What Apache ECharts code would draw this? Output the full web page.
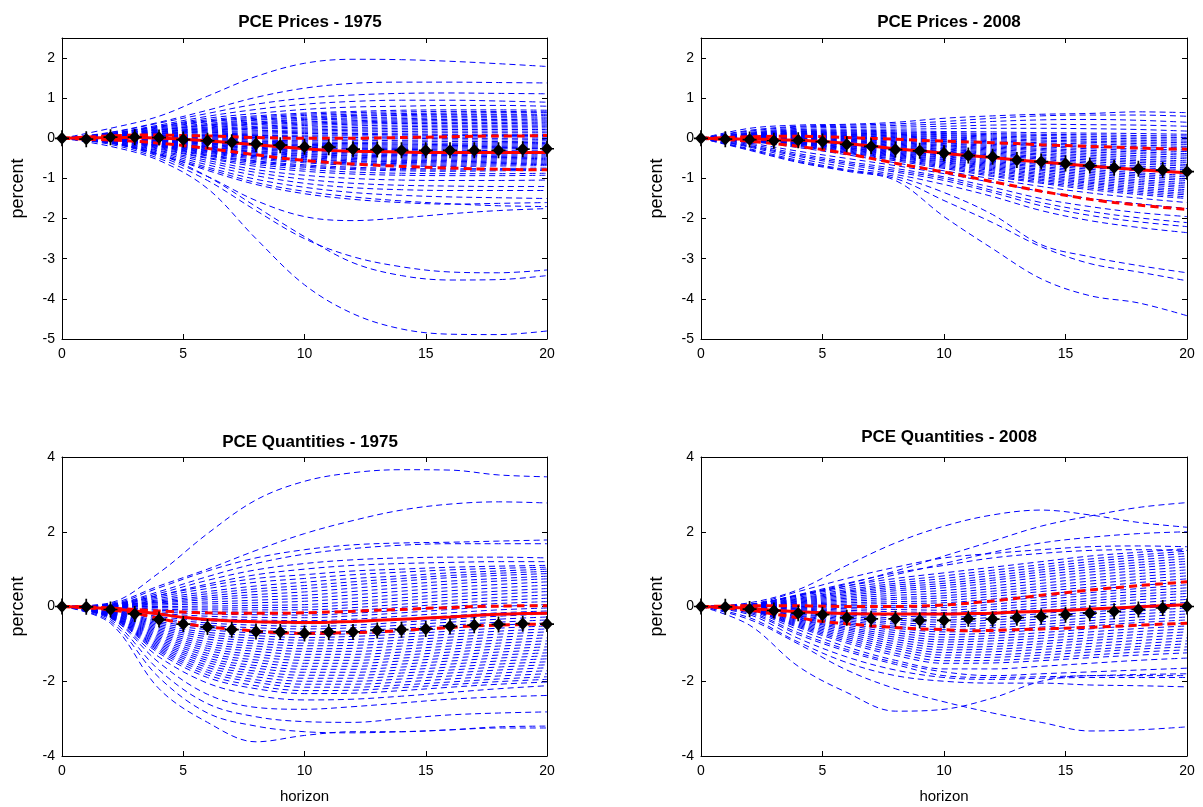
<!DOCTYPE html>
<html><head><meta charset="utf-8">
<script src="https://cdn.jsdelivr.net/npm/echarts@6/dist/echarts.min.js"></script>
<style>html,body{margin:0;padding:0;background:#fff}#c{width:1203px;height:807px}</style>
</head><body><div id="c"></div>
<script>
// ---------------- DATA ----------------
const titles = ['PCE Prices - 1975', 'PCE Prices - 2008', 'PCE Quantities - 1975', 'PCE Quantities - 2008'];
const horizon = [0,1,2,3,4,5,6,7,8,9,10,11,12,13,14,15,16,17,18,19,20];
const drawHorizon = [0,2,4,6,8,10,12,14,16,18,20];
const xTicks = [0,5,10,15,20];

// Panel 1: PCE Prices - 1975
const pricesDraws1975 = [
[0,0.25,0.55,1.05,1.54,1.87,1.97,1.96,1.92,1.86,1.79],
[0,0.15,0.4,0.7,1.02,1.25,1.37,1.4,1.4,1.39,1.38],
[0,0.14,0.38,0.62,0.85,1.0,1.08,1.12,1.13,1.12,1.11],
[0,0.12,0.33,0.55,0.72,0.85,0.92,0.95,0.95,0.93,0.9],
[0,0.1,0.3,0.5,0.62,0.72,0.78,0.8,0.82,0.82,0.8],
[0,0.12,0.3,0.46,0.56,0.63,0.67,0.7,0.71,0.71,0.7],
[0,0.11,0.28,0.43,0.53,0.6,0.64,0.66,0.67,0.67,0.66],
[0,0.09,0.26,0.41,0.5,0.57,0.6,0.62,0.63,0.64,0.64],
[0,0.08,0.24,0.37,0.47,0.53,0.57,0.59,0.6,0.6,0.6],
[0,0.1,0.22,0.34,0.45,0.5,0.55,0.57,0.58,0.58,0.57],
[0,0.09,0.21,0.33,0.41,0.47,0.51,0.53,0.54,0.54,0.53],
[0,0.07,0.2,0.31,0.38,0.45,0.48,0.49,0.51,0.51,0.5],
[0,0.07,0.18,0.28,0.36,0.41,0.44,0.46,0.47,0.47,0.46],
[0,0.08,0.16,0.26,0.34,0.38,0.41,0.43,0.44,0.44,0.43],
[0,0.06,0.16,0.24,0.3,0.35,0.38,0.4,0.4,0.4,0.4],
[0,0.05,0.15,0.22,0.27,0.32,0.35,0.37,0.37,0.37,0.36],
[0,0.05,0.13,0.2,0.25,0.28,0.31,0.33,0.33,0.33,0.33],
[0,0.06,0.12,0.18,0.23,0.25,0.27,0.29,0.3,0.3,0.3],
[0,0.05,0.11,0.16,0.19,0.21,0.23,0.25,0.26,0.26,0.26],
[0,0.04,0.1,0.14,0.16,0.18,0.2,0.21,0.22,0.22,0.22],
[0,0.04,0.08,0.11,0.13,0.15,0.16,0.17,0.18,0.18,0.18],
[0,0.05,0.07,0.09,0.1,0.12,0.12,0.13,0.14,0.14,0.14],
[0,0.03,0.06,0.07,0.07,0.08,0.09,0.1,0.1,0.1,0.1],
[0,0.03,0.05,0.05,0.04,0.05,0.06,0.06,0.07,0.07,0.07],
[0,0.02,0.04,0.03,0.02,0.01,0.02,0.03,0.03,0.04,0.04],
[0,0.02,0.03,0.01,-0.01,-0.02,-0.02,-0.01,0,0,0.01],
[0,0.02,0.02,-0.01,-0.04,-0.06,-0.06,-0.05,-0.04,-0.04,-0.03],
[0,0.03,0.01,-0.03,-0.07,-0.09,-0.1,-0.09,-0.08,-0.08,-0.06],
[0,0.01,0,-0.05,-0.09,-0.12,-0.13,-0.12,-0.12,-0.11,-0.1],
[0,0.01,-0.01,-0.06,-0.11,-0.15,-0.16,-0.16,-0.15,-0.14,-0.13],
[0,0.01,-0.02,-0.08,-0.13,-0.17,-0.19,-0.19,-0.18,-0.17,-0.16],
[0,0.02,-0.03,-0.1,-0.15,-0.19,-0.22,-0.22,-0.21,-0.2,-0.19],
[0,0,-0.04,-0.11,-0.17,-0.22,-0.25,-0.25,-0.24,-0.23,-0.22],
[0,0,-0.05,-0.12,-0.19,-0.24,-0.27,-0.28,-0.27,-0.26,-0.25],
[0,0,-0.06,-0.14,-0.22,-0.27,-0.3,-0.31,-0.31,-0.3,-0.29],
[0,0.01,-0.07,-0.15,-0.24,-0.3,-0.33,-0.34,-0.34,-0.33,-0.32],
[0,-0.01,-0.08,-0.17,-0.26,-0.32,-0.36,-0.37,-0.37,-0.36,-0.35],
[0,-0.01,-0.09,-0.19,-0.28,-0.35,-0.39,-0.4,-0.4,-0.39,-0.38],
[0,-0.01,-0.1,-0.21,-0.31,-0.38,-0.42,-0.43,-0.43,-0.42,-0.41],
[0,0,-0.11,-0.22,-0.33,-0.4,-0.44,-0.46,-0.46,-0.45,-0.44],
[0,-0.02,-0.12,-0.24,-0.35,-0.43,-0.47,-0.49,-0.49,-0.48,-0.47],
[0,-0.02,-0.13,-0.26,-0.37,-0.45,-0.5,-0.52,-0.52,-0.51,-0.5],
[0,-0.02,-0.14,-0.28,-0.4,-0.48,-0.53,-0.55,-0.55,-0.54,-0.53],
[0,-0.01,-0.14,-0.3,-0.43,-0.51,-0.56,-0.58,-0.58,-0.57,-0.56],
[0,-0.03,-0.16,-0.31,-0.44,-0.53,-0.58,-0.6,-0.61,-0.6,-0.59],
[0,-0.03,-0.17,-0.33,-0.46,-0.56,-0.61,-0.63,-0.64,-0.63,-0.62],
[0,-0.03,-0.18,-0.35,-0.49,-0.58,-0.64,-0.66,-0.67,-0.66,-0.65],
[0,-0.02,-0.19,-0.37,-0.52,-0.61,-0.67,-0.69,-0.7,-0.69,-0.68],
[0,-0.04,-0.2,-0.4,-0.56,-0.66,-0.72,-0.75,-0.76,-0.75,-0.74],
[0,-0.04,-0.21,-0.42,-0.58,-0.69,-0.75,-0.78,-0.79,-0.78,-0.77],
[0,-0.05,-0.23,-0.44,-0.61,-0.72,-0.78,-0.81,-0.82,-0.81,-0.8],
[0,-0.04,-0.25,-0.48,-0.65,-0.77,-0.84,-0.87,-0.88,-0.88,-0.87],
[0,-0.06,-0.27,-0.5,-0.7,-0.82,-0.89,-0.92,-0.93,-0.93,-0.92],
[0,-0.07,-0.3,-0.55,-0.78,-0.92,-1.0,-1.04,-1.05,-1.05,-1.04],
[0,-0.08,-0.32,-0.6,-0.85,-1.02,-1.12,-1.17,-1.19,-1.2,-1.2],
[0,-0.09,-0.35,-0.66,-0.93,-1.12,-1.23,-1.28,-1.3,-1.3,-1.3],
[0,-0.1,-0.38,-0.72,-1.02,-1.22,-1.35,-1.42,-1.46,-1.48,-1.5],
[0,-0.1,-0.4,-0.8,-1.15,-1.38,-1.52,-1.6,-1.64,-1.62,-1.6],
[0,-0.11,-0.42,-0.76,-1.1,-1.32,-1.46,-1.56,-1.63,-1.68,-1.7],
[0,-0.12,-0.45,-0.95,-1.55,-1.95,-2.05,-1.98,-1.88,-1.8,-1.75],
[0,-0.12,-0.4,-0.95,-1.7,-2.45,-3.1,-3.42,-3.53,-3.52,-3.42],
[0,-0.15,-0.5,-1.05,-1.8,-2.5,-2.95,-3.2,-3.33,-3.35,-3.28],
[0,-0.2,-0.55,-1.25,-2.5,-3.65,-4.37,-4.75,-4.88,-4.89,-4.8]
];
const pricesMedian1975 = [0,0.01,0.02,0.02,0.01,-0.02,-0.06,-0.11,-0.16,-0.21,-0.26,-0.3,-0.32,-0.33,-0.34,-0.35,-0.35,-0.35,-0.35,-0.35,-0.35];
const pricesUpper1975 = [0,0.03,0.06,0.08,0.08,0.07,0.06,0.04,0.02,0.01,0.0,0.0,0.0,0.01,0.02,0.03,0.04,0.05,0.06,0.06,0.07];
const pricesLower1975 = [0,-0.02,-0.04,-0.07,-0.12,-0.18,-0.25,-0.33,-0.41,-0.49,-0.55,-0.6,-0.64,-0.67,-0.7,-0.72,-0.74,-0.76,-0.77,-0.78,-0.78];
const pricesPoint1975 = [0,-0.02,0.03,0.03,0.02,-0.03,-0.06,-0.1,-0.14,-0.17,-0.21,-0.22,-0.27,-0.28,-0.3,-0.3,-0.3,-0.3,-0.3,-0.27,-0.26];

// Panel 2: PCE Prices - 2008
const pricesDraws2008 = [
[0,0.25,0.33,0.35,0.4,0.5,0.56,0.6,0.62,0.66,0.64],
[0,0.2,0.3,0.33,0.36,0.42,0.5,0.56,0.58,0.58,0.55],
[0,0.18,0.28,0.3,0.32,0.36,0.42,0.46,0.47,0.45,0.4],
[0,0.15,0.25,0.27,0.28,0.3,0.33,0.35,0.34,0.33,0.3],
[0,0.13,0.22,0.23,0.23,0.24,0.25,0.25,0.24,0.22,0.18],
[0,0.12,0.2,0.2,0.19,0.17,0.16,0.14,0.13,0.12,0.1],
[0,0.11,0.18,0.18,0.16,0.14,0.12,0.1,0.09,0.07,0.06],
[0,0.1,0.17,0.16,0.14,0.12,0.09,0.07,0.05,0.03,0.02],
[0,0.09,0.15,0.14,0.12,0.09,0.06,0.03,0.01,-0.01,-0.02],
[0,0.09,0.14,0.13,0.1,0.07,0.03,0,-0.03,-0.05,-0.07],
[0,0.08,0.13,0.11,0.08,0.04,0,-0.04,-0.07,-0.09,-0.11],
[0,0.08,0.12,0.1,0.06,0.02,-0.03,-0.07,-0.1,-0.13,-0.15],
[0,0.07,0.11,0.08,0.04,-0.01,-0.06,-0.11,-0.14,-0.17,-0.2],
[0,0.07,0.1,0.07,0.02,-0.03,-0.09,-0.14,-0.18,-0.21,-0.24],
[0,0.06,0.09,0.05,0,-0.06,-0.12,-0.18,-0.22,-0.26,-0.29],
[0,0.06,0.08,0.04,-0.02,-0.08,-0.15,-0.21,-0.26,-0.3,-0.33],
[0,0.05,0.07,0.02,-0.04,-0.11,-0.18,-0.25,-0.3,-0.34,-0.38],
[0,0.05,0.06,0.01,-0.06,-0.13,-0.21,-0.28,-0.34,-0.38,-0.42],
[0,0.04,0.05,-0.01,-0.08,-0.16,-0.24,-0.31,-0.38,-0.43,-0.47],
[0,0.04,0.04,-0.02,-0.1,-0.18,-0.27,-0.35,-0.42,-0.47,-0.51],
[0,0.03,0.03,-0.04,-0.12,-0.2,-0.3,-0.39,-0.46,-0.52,-0.56],
[0,0.03,0.02,-0.05,-0.14,-0.23,-0.33,-0.42,-0.5,-0.56,-0.6],
[0,0.02,0.01,-0.07,-0.16,-0.26,-0.36,-0.46,-0.54,-0.6,-0.65],
[0,0.02,0,-0.08,-0.18,-0.28,-0.39,-0.49,-0.58,-0.64,-0.69],
[0,0.01,-0.01,-0.1,-0.2,-0.31,-0.42,-0.52,-0.62,-0.69,-0.74],
[0,0.01,-0.02,-0.11,-0.22,-0.33,-0.45,-0.56,-0.66,-0.73,-0.78],
[0,0,-0.03,-0.12,-0.24,-0.36,-0.48,-0.6,-0.7,-0.77,-0.83],
[0,0,-0.04,-0.14,-0.26,-0.38,-0.51,-0.63,-0.73,-0.81,-0.87],
[0,-0.01,-0.05,-0.15,-0.28,-0.4,-0.54,-0.66,-0.77,-0.86,-0.92],
[0,-0.01,-0.06,-0.17,-0.3,-0.43,-0.57,-0.7,-0.81,-0.9,-0.96],
[0,-0.02,-0.07,-0.18,-0.32,-0.45,-0.6,-0.73,-0.85,-0.94,-1.01],
[0,-0.02,-0.08,-0.2,-0.34,-0.48,-0.63,-0.77,-0.89,-0.98,-1.05],
[0,-0.03,-0.09,-0.22,-0.36,-0.5,-0.66,-0.8,-0.93,-1.03,-1.1],
[0,-0.03,-0.1,-0.23,-0.38,-0.53,-0.69,-0.84,-0.97,-1.07,-1.14],
[0,-0.04,-0.11,-0.24,-0.4,-0.55,-0.72,-0.88,-1.01,-1.11,-1.19],
[0,-0.04,-0.12,-0.26,-0.42,-0.58,-0.75,-0.91,-1.05,-1.15,-1.23],
[0,-0.05,-0.13,-0.27,-0.44,-0.6,-0.78,-0.95,-1.09,-1.2,-1.28],
[0,-0.05,-0.14,-0.29,-0.46,-0.63,-0.81,-0.98,-1.12,-1.24,-1.32],
[0,-0.06,-0.15,-0.31,-0.48,-0.66,-0.85,-1.02,-1.16,-1.28,-1.37],
[0,-0.06,-0.17,-0.33,-0.51,-0.69,-0.88,-1.05,-1.2,-1.32,-1.41],
[0,-0.07,-0.18,-0.35,-0.53,-0.72,-0.92,-1.09,-1.24,-1.36,-1.46],
[0,-0.07,-0.2,-0.37,-0.56,-0.75,-0.95,-1.12,-1.28,-1.4,-1.5],
[0,-0.08,-0.23,-0.41,-0.61,-0.81,-1.01,-1.2,-1.36,-1.49,-1.6],
[0,-0.12,-0.32,-0.5,-0.68,-0.88,-1.1,-1.32,-1.5,-1.63,-1.75],
[0,-0.15,-0.38,-0.58,-0.75,-0.96,-1.22,-1.5,-1.7,-1.85,-1.95],
[0,-0.18,-0.42,-0.62,-0.8,-1.0,-1.3,-1.6,-1.82,-1.98,-2.1],
[0,-0.2,-0.45,-0.66,-0.84,-1.05,-1.35,-1.68,-1.92,-2.08,-2.2],
[0,-0.22,-0.5,-0.72,-0.9,-1.15,-1.45,-1.8,-2.05,-2.22,-2.35],
[0,-0.26,-0.55,-0.78,-0.95,-1.35,-1.9,-2.65,-2.95,-3.17,-3.35],
[0,-0.28,-0.58,-0.8,-1.0,-1.55,-2.1,-2.7,-3.12,-3.33,-3.55],
[0,-0.3,-0.6,-0.82,-1.05,-1.95,-2.75,-3.5,-3.92,-4.1,-4.42]
];
const pricesMedian2008 = [0,-0.01,-0.02,-0.03,-0.05,-0.08,-0.13,-0.19,-0.26,-0.31,-0.37,-0.43,-0.48,-0.54,-0.59,-0.64,-0.69,-0.74,-0.78,-0.82,-0.86];
const pricesUpper2008 = [0,0.02,0.04,0.05,0.05,0.04,0.02,0,-0.02,-0.05,-0.07,-0.09,-0.11,-0.13,-0.16,-0.18,-0.2,-0.22,-0.24,-0.26,-0.27];
const pricesLower2008 = [0,-0.03,-0.07,-0.13,-0.2,-0.28,-0.38,-0.5,-0.62,-0.73,-0.84,-0.96,-1.08,-1.2,-1.32,-1.42,-1.52,-1.6,-1.66,-1.72,-1.77];
const pricesPoint2008 = [0,-0.02,-0.03,-0.06,-0.05,-0.08,-0.15,-0.2,-0.28,-0.31,-0.37,-0.43,-0.46,-0.54,-0.58,-0.63,-0.68,-0.73,-0.76,-0.79,-0.83];

// Panel 3: PCE Quantities - 1975
const quantDraws1975 = [
[0,0.1,0.9,1.95,2.85,3.35,3.58,3.66,3.65,3.52,3.47],
[0,0.08,0.55,1.0,1.5,1.95,2.3,2.58,2.74,2.8,2.77],
[0,0.06,0.5,0.95,1.3,1.52,1.65,1.7,1.72,1.75,1.78],
[0,0.05,0.4,0.8,1.15,1.4,1.55,1.64,1.68,1.68,1.68],
[0,0.05,0.35,0.7,0.98,1.15,1.25,1.3,1.32,1.32,1.3],
[0,0.04,0.3,0.6,0.85,1.0,1.1,1.15,1.18,1.2,1.2],
[0,0.04,0.3,0.55,0.75,0.85,0.95,1.0,1.05,1.08,1.1],
[0,0.03,0.26,0.48,0.65,0.75,0.85,0.92,0.98,1.02,1.05],
[0,0.03,0.22,0.4,0.55,0.65,0.75,0.82,0.9,0.95,1.0],
[0,0.02,0.18,0.34,0.47,0.56,0.66,0.75,0.83,0.89,0.94],
[0,0.02,0.15,0.28,0.4,0.48,0.58,0.68,0.77,0.83,0.88],
[0,0.02,0.12,0.23,0.32,0.39,0.49,0.59,0.68,0.75,0.81],
[0,0.02,0.1,0.18,0.25,0.3,0.4,0.5,0.6,0.68,0.74],
[0,0.01,0.07,0.12,0.17,0.22,0.31,0.41,0.51,0.59,0.66],
[0,0.01,0.04,0.07,0.1,0.14,0.22,0.32,0.42,0.5,0.57],
[0,0,0,0.01,0.03,0.05,0.13,0.23,0.33,0.41,0.48],
[0,0,-0.03,-0.04,-0.03,-0.02,0.05,0.15,0.25,0.33,0.4],
[0,-0.01,-0.07,-0.09,-0.09,-0.09,-0.03,0.06,0.16,0.24,0.31],
[0,-0.01,-0.1,-0.14,-0.15,-0.16,-0.1,-0.02,0.08,0.16,0.22],
[0,-0.02,-0.14,-0.2,-0.22,-0.23,-0.18,-0.1,0,0.08,0.13],
[0,-0.03,-0.18,-0.26,-0.29,-0.3,-0.25,-0.17,-0.08,0,0.05],
[0,-0.04,-0.22,-0.32,-0.36,-0.38,-0.34,-0.26,-0.17,-0.09,-0.04],
[0,-0.05,-0.27,-0.38,-0.43,-0.46,-0.42,-0.34,-0.25,-0.17,-0.12],
[0,-0.06,-0.31,-0.44,-0.5,-0.53,-0.5,-0.42,-0.34,-0.26,-0.2],
[0,-0.07,-0.35,-0.5,-0.57,-0.6,-0.57,-0.5,-0.42,-0.34,-0.28],
[0,-0.08,-0.4,-0.56,-0.64,-0.68,-0.65,-0.58,-0.5,-0.42,-0.36],
[0,-0.09,-0.44,-0.62,-0.71,-0.75,-0.73,-0.67,-0.58,-0.5,-0.44],
[0,-0.1,-0.48,-0.69,-0.78,-0.83,-0.8,-0.74,-0.66,-0.58,-0.52],
[0,-0.11,-0.52,-0.75,-0.85,-0.9,-0.88,-0.82,-0.74,-0.66,-0.6],
[0,-0.12,-0.56,-0.81,-0.92,-0.98,-0.96,-0.9,-0.82,-0.74,-0.68],
[0,-0.13,-0.6,-0.87,-0.99,-1.05,-1.04,-0.98,-0.9,-0.82,-0.76],
[0,-0.14,-0.64,-0.94,-1.06,-1.13,-1.12,-1.06,-0.98,-0.9,-0.84],
[0,-0.15,-0.68,-1.0,-1.13,-1.2,-1.2,-1.14,-1.06,-0.98,-0.92],
[0,-0.16,-0.72,-1.06,-1.2,-1.28,-1.28,-1.22,-1.14,-1.06,-1.0],
[0,-0.17,-0.76,-1.12,-1.28,-1.36,-1.36,-1.3,-1.22,-1.14,-1.08],
[0,-0.18,-0.8,-1.18,-1.35,-1.44,-1.44,-1.38,-1.3,-1.22,-1.16],
[0,-0.19,-0.84,-1.25,-1.43,-1.52,-1.52,-1.46,-1.38,-1.3,-1.24],
[0,-0.2,-0.88,-1.31,-1.5,-1.6,-1.6,-1.54,-1.46,-1.38,-1.32],
[0,-0.21,-0.92,-1.38,-1.58,-1.68,-1.68,-1.62,-1.54,-1.46,-1.4],
[0,-0.22,-0.96,-1.44,-1.65,-1.76,-1.76,-1.7,-1.62,-1.54,-1.48],
[0,-0.23,-1.0,-1.5,-1.73,-1.84,-1.84,-1.78,-1.7,-1.62,-1.56],
[0,-0.24,-1.04,-1.57,-1.8,-1.92,-1.92,-1.86,-1.78,-1.7,-1.64],
[0,-0.25,-1.08,-1.63,-1.88,-2.0,-2.0,-1.94,-1.86,-1.78,-1.72],
[0,-0.26,-1.12,-1.7,-1.96,-2.08,-2.08,-2.02,-1.94,-1.86,-1.8],
[0,-0.27,-1.16,-1.76,-2.03,-2.16,-2.16,-2.1,-2.02,-1.94,-1.88],
[0,-0.28,-1.2,-1.83,-2.12,-2.25,-2.24,-2.17,-2.09,-2.01,-1.95],
[0,-0.29,-1.25,-1.9,-2.2,-2.33,-2.32,-2.25,-2.16,-2.08,-2.02],
[0,-0.31,-1.35,-2.05,-2.38,-2.5,-2.48,-2.4,-2.3,-2.2,-2.12],
[0,-0.3,-1.5,-2.35,-2.7,-2.75,-2.68,-2.58,-2.48,-2.42,-2.38],
[0,-0.35,-1.7,-2.6,-2.95,-3.08,-3.1,-3.0,-2.9,-2.85,-2.82],
[0,-0.4,-1.9,-2.85,-3.2,-3.35,-3.38,-3.35,-3.3,-3.22,-3.2],
[0,-0.45,-2.2,-3.1,-3.62,-3.45,-3.35,-3.35,-3.3,-3.25,-3.25]
];
const quantMedian1975 = [0,-0.02,-0.06,-0.12,-0.2,-0.29,-0.35,-0.39,-0.41,-0.42,-0.43,-0.42,-0.4,-0.37,-0.34,-0.31,-0.28,-0.24,-0.21,-0.19,-0.18];
const quantUpper1975 = [0,-0.01,-0.04,-0.08,-0.12,-0.15,-0.17,-0.18,-0.18,-0.18,-0.17,-0.15,-0.13,-0.1,-0.08,-0.05,-0.03,0,0.01,0.02,0.02];
const quantLower1975 = [0,-0.03,-0.09,-0.18,-0.32,-0.45,-0.55,-0.6,-0.66,-0.7,-0.72,-0.71,-0.7,-0.68,-0.64,-0.6,-0.56,-0.52,-0.5,-0.48,-0.47];
const quantPoint1975 = [0,-0.01,-0.08,-0.2,-0.35,-0.47,-0.55,-0.62,-0.67,-0.68,-0.72,-0.68,-0.68,-0.64,-0.62,-0.6,-0.53,-0.5,-0.48,-0.46,-0.47];

// Panel 4: PCE Quantities - 2008
const quantDraws2008 = [
[0,0.1,0.45,1.1,1.7,2.15,2.45,2.58,2.45,2.25,2.12],
[0,0.05,0.3,0.6,0.95,1.35,1.75,2.15,2.42,2.65,2.78],
[0,0.05,0.3,0.55,0.85,1.15,1.45,1.7,1.85,1.95,2.0],
[0,0.06,0.4,0.75,1.05,1.3,1.42,1.52,1.6,1.62,1.6],
[0,0.05,0.32,0.62,0.9,1.1,1.3,1.42,1.5,1.52,1.5],
[0,0.05,0.3,0.55,0.75,0.9,1.05,1.2,1.35,1.45,1.55],
[0,0.05,0.28,0.5,0.68,0.82,0.97,1.12,1.27,1.38,1.48],
[0,0.04,0.25,0.45,0.62,0.75,0.9,1.05,1.2,1.32,1.42],
[0,0.04,0.22,0.41,0.57,0.68,0.83,0.98,1.13,1.25,1.35],
[0,0.04,0.2,0.38,0.52,0.62,0.76,0.92,1.06,1.18,1.28],
[0,0.03,0.18,0.34,0.47,0.56,0.7,0.85,0.99,1.11,1.21],
[0,0.03,0.16,0.3,0.42,0.5,0.63,0.78,0.92,1.04,1.14],
[0,0.03,0.14,0.26,0.36,0.43,0.55,0.7,0.84,0.96,1.06],
[0,0.02,0.12,0.22,0.3,0.36,0.48,0.62,0.76,0.88,0.98],
[0,0.02,0.1,0.18,0.24,0.29,0.41,0.54,0.68,0.8,0.9],
[0,0.02,0.08,0.14,0.19,0.23,0.34,0.47,0.6,0.72,0.82],
[0,0.01,0.06,0.1,0.13,0.16,0.27,0.4,0.52,0.64,0.74],
[0,0.01,0.04,0.06,0.08,0.1,0.2,0.32,0.45,0.56,0.66],
[0,0.01,0.02,0.02,0.02,0.03,0.13,0.25,0.37,0.48,0.58],
[0,0,0,-0.02,-0.03,-0.03,0.06,0.18,0.3,0.41,0.5],
[0,0,-0.02,-0.06,-0.08,-0.1,-0.01,0.1,0.22,0.33,0.42],
[0,0,-0.04,-0.1,-0.14,-0.16,-0.08,0.03,0.15,0.26,0.35],
[0,-0.01,-0.06,-0.14,-0.2,-0.23,-0.15,-0.04,0.08,0.18,0.27],
[0,-0.01,-0.08,-0.18,-0.25,-0.29,-0.22,-0.11,0,0.1,0.19],
[0,-0.02,-0.1,-0.22,-0.31,-0.36,-0.29,-0.19,-0.08,0.02,0.11],
[0,-0.02,-0.13,-0.26,-0.36,-0.42,-0.36,-0.26,-0.15,-0.05,0.03],
[0,-0.03,-0.15,-0.3,-0.42,-0.49,-0.43,-0.33,-0.22,-0.12,-0.04],
[0,-0.03,-0.18,-0.34,-0.47,-0.55,-0.5,-0.41,-0.3,-0.2,-0.12],
[0,-0.04,-0.2,-0.38,-0.53,-0.62,-0.57,-0.48,-0.38,-0.28,-0.2],
[0,-0.04,-0.23,-0.42,-0.58,-0.68,-0.64,-0.55,-0.45,-0.36,-0.28],
[0,-0.05,-0.25,-0.46,-0.64,-0.75,-0.71,-0.62,-0.52,-0.43,-0.36],
[0,-0.05,-0.28,-0.5,-0.7,-0.82,-0.78,-0.7,-0.6,-0.51,-0.44],
[0,-0.06,-0.3,-0.55,-0.76,-0.89,-0.85,-0.78,-0.68,-0.59,-0.52],
[0,-0.06,-0.33,-0.59,-0.82,-0.95,-0.92,-0.85,-0.76,-0.67,-0.6],
[0,-0.07,-0.35,-0.63,-0.88,-1.02,-1.0,-0.93,-0.84,-0.75,-0.68],
[0,-0.07,-0.38,-0.68,-0.94,-1.09,-1.07,-1.0,-0.91,-0.83,-0.76],
[0,-0.08,-0.41,-0.73,-1.0,-1.16,-1.14,-1.08,-0.99,-0.91,-0.84],
[0,-0.08,-0.44,-0.78,-1.06,-1.23,-1.21,-1.15,-1.07,-0.99,-0.92],
[0,-0.09,-0.47,-0.83,-1.12,-1.3,-1.29,-1.23,-1.15,-1.07,-1.0],
[0,-0.09,-0.5,-0.88,-1.18,-1.37,-1.36,-1.3,-1.22,-1.14,-1.08],
[0,-0.1,-0.53,-0.93,-1.25,-1.45,-1.44,-1.38,-1.3,-1.22,-1.16],
[0,-0.1,-0.56,-0.98,-1.31,-1.52,-1.51,-1.45,-1.37,-1.3,-1.24],
[0,-0.12,-0.62,-1.08,-1.44,-1.67,-1.67,-1.6,-1.52,-1.44,-1.38],
[0,-0.15,-0.7,-1.15,-1.5,-1.75,-1.85,-1.8,-1.75,-1.7,-1.65],
[0,-0.18,-0.75,-1.2,-1.55,-1.85,-1.9,-1.88,-1.85,-1.82,-1.8],
[0,-0.22,-0.85,-1.35,-1.7,-1.9,-1.95,-1.92,-1.9,-1.9,-1.9],
[0,-0.3,-0.95,-1.5,-1.85,-2.0,-2.05,-2.05,-2.1,-2.12,-2.15],
[0,-0.5,-1.6,-2.3,-2.8,-2.75,-2.45,-2.0,-1.85,-1.85,-1.85],
[0,-0.35,-1.0,-1.7,-2.2,-2.55,-2.85,-3.1,-3.33,-3.3,-3.22]
];
const quantMedian2008 = [0,-0.02,-0.05,-0.1,-0.14,-0.17,-0.19,-0.2,-0.2,-0.2,-0.2,-0.19,-0.18,-0.15,-0.13,-0.1,-0.07,-0.04,-0.01,0.02,0.05];
const quantUpper2008 = [0,0.01,0.02,0.02,0.02,0.01,0,0,0,0.01,0.04,0.09,0.15,0.22,0.3,0.37,0.44,0.5,0.56,0.61,0.66];
const quantLower2008 = [0,-0.04,-0.1,-0.2,-0.3,-0.4,-0.46,-0.52,-0.56,-0.6,-0.62,-0.65,-0.64,-0.62,-0.6,-0.58,-0.56,-0.53,-0.5,-0.47,-0.45];
const quantPoint2008 = [0,-0.01,-0.07,-0.11,-0.18,-0.22,-0.3,-0.33,-0.33,-0.37,-0.37,-0.33,-0.34,-0.3,-0.27,-0.22,-0.18,-0.13,-0.08,-0.04,0];

// ---------------- CHART ----------------
const FONT = "'Liberation Sans', Arial, Helvetica, sans-serif";
const panels = [
  {draws: pricesDraws1975, med: pricesMedian1975, up: pricesUpper1975, lo: pricesLower1975, pts: pricesPoint1975,
   ymin: -5, ymax: 2.5, yint: 1, grid: {left: 62, top: 38, width: 485, height: 301}, tx: 305, ty: 9, xname: ''},
  {draws: pricesDraws2008, med: pricesMedian2008, up: pricesUpper2008, lo: pricesLower2008, pts: pricesPoint2008,
   ymin: -5, ymax: 2.5, yint: 1, grid: {left: 701, top: 38, width: 486, height: 301}, tx: 944, ty: 9, xname: ''},
  {draws: quantDraws1975, med: quantMedian1975, up: quantUpper1975, lo: quantLower1975, pts: quantPoint1975,
   ymin: -4, ymax: 4, yint: 2, grid: {left: 62, top: 457, width: 485, height: 299}, tx: 305, ty: 429, xname: 'horizon'},
  {draws: quantDraws2008, med: quantMedian2008, up: quantUpper2008, lo: quantLower2008, pts: quantPoint2008,
   ymin: -4, ymax: 4, yint: 2, grid: {left: 701, top: 457, width: 486, height: 299}, tx: 944, ty: 424, xname: 'horizon'}
];

const diamond = 'path://M-0.8,-7.5 L0.8,-7.5 L0.8,-5.13 L4.77,-0.8 L6.5,-0.8 L6.5,0.8 L4.77,0.8 L0.8,5.13 L0.8,7.5 L-0.8,7.5 L-0.8,5.13 L-4.77,0.8 L-6.5,0.8 L-6.5,-0.8 L-4.77,-0.8 L-0.8,-5.13 Z';

const axisLine = {show: true, onZero: false, lineStyle: {color: '#000', width: 1}};
const tick = {show: true, inside: true, length: 5, lineStyle: {color: '#000', width: 1}};
const grids = [], xAxes = [], yAxes = [], series = [], titleList = [];

panels.forEach((p, i) => {
  grids.push(Object.assign({containLabel: false}, p.grid));
  titleList.push({text: titles[i], left: p.tx, top: p.ty, textAlign: 'center',
    textStyle: {fontFamily: FONT, fontSize: 17, fontWeight: 'bold', color: '#000'}});
  const xBase = {gridIndex: i, type: 'value', min: xTicks[0], max: xTicks[xTicks.length - 1], interval: xTicks[1] - xTicks[0],
    axisLine, axisTick: tick, splitLine: {show: false}};
  xAxes.push(Object.assign({}, xBase, {position: 'bottom',
    axisLabel: {color: '#000', fontFamily: FONT, fontSize: 14, margin: 8},
    name: p.xname, nameLocation: 'middle', nameGap: 33,
    nameTextStyle: {color: '#000', fontFamily: FONT, fontSize: 15}}));
  xAxes.push(Object.assign({}, xBase, {position: 'top', axisLabel: {show: false}}));
  const yBase = {gridIndex: i, type: 'value', min: p.ymin, max: p.ymax, interval: p.yint,
    axisLine, axisTick: tick, splitLine: {show: false}};
  yAxes.push(Object.assign({}, yBase, {position: 'left',
    axisLabel: {color: '#000', fontFamily: FONT, fontSize: 14, margin: 7,
      formatter: v => (Math.abs(v - Math.round(v)) < 1e-9 ? String(Math.round(v)) : '')},
    name: 'percent', nameLocation: 'middle', nameGap: 35, nameRotate: 90,
    nameTextStyle: {color: '#000', fontFamily: FONT, fontSize: 18}}));
  yAxes.push(Object.assign({}, yBase, {position: 'right', axisLabel: {show: false}}));

  const xi = 2 * i, yi = 2 * i;
  p.draws.forEach(d => {
    series.push({type: 'line', xAxisIndex: xi, yAxisIndex: yi, silent: true, showSymbol: false, smooth: 0.35,
      data: drawHorizon.map((h, k) => [h, d[k]]),
      lineStyle: {color: '#0000ff', width: 1, type: [6, 4]}, z: 2});
  });
  [p.up, p.lo].forEach(b => {
    series.push({type: 'line', xAxisIndex: xi, yAxisIndex: yi, silent: true, showSymbol: false, smooth: 0.3,
      data: horizon.map((h, k) => [h, b[k]]),
      lineStyle: {color: '#ff0000', width: 3, type: [8, 5]}, z: 3});
  });
  series.push({type: 'line', xAxisIndex: xi, yAxisIndex: yi, silent: true, showSymbol: false, smooth: 0.3,
    data: horizon.map((h, k) => [h, p.med[k]]),
    lineStyle: {color: '#ff0000', width: 3, type: 'solid'}, z: 3});
  series.push({type: 'scatter', xAxisIndex: xi, yAxisIndex: yi, silent: true, symbol: diamond, symbolSize: [14, 16],
    data: horizon.map((h, k) => [h, p.pts[k]]),
    itemStyle: {color: '#000', opacity: 1}, z: 4, clip: false});
});

const chart = echarts.init(document.getElementById('c'), null, {renderer: 'canvas'});
chart.setOption({
  animation: false,
  backgroundColor: '#fff',
  title: titleList,
  grid: grids,
  xAxis: xAxes,
  yAxis: yAxes,
  series: series
});
</script>
</body></html>
